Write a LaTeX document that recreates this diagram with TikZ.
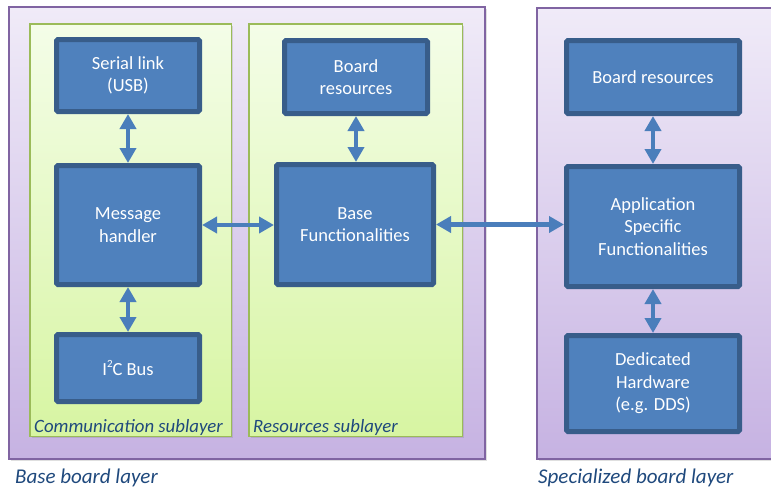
\documentclass[tikz,border=0pt]{standalone}
\usepackage{fontspec}
\setmainfont{Carlito}
\usetikzlibrary{arrows.meta,shadows}
\definecolor{boxfill}{HTML}{4F81BD}
\definecolor{boxline}{HTML}{385D8A}
\definecolor{arrowc}{HTML}{4A7EBB}
\definecolor{purpline}{HTML}{8064A2}
\definecolor{purptop}{HTML}{F0EBF8}
\definecolor{purpbot}{HTML}{C6B2E2}
\definecolor{greenline}{HTML}{9BBB59}
\definecolor{greentop}{HTML}{F4FDE8}
\definecolor{greenbot}{HTML}{D7F5A2}
\definecolor{labelc}{HTML}{1F497D}
\begin{document}
\begin{tikzpicture}[x=1pt,y=-1pt,
  block/.style={draw=boxline, line width=5pt, fill=boxfill, rounded corners=1.5pt, text=white, inner sep=0pt, align=center, font=\fontsize{18.5}{22.5}\selectfont},
  layerbox/.style={draw=purpline, line width=2pt, top color=purptop, bottom color=purpbot, inner sep=0pt, drop shadow={opacity=0.25, shadow xshift=2pt, shadow yshift=-2pt}},
  subbox/.style={draw=greenline, line width=1.5pt, top color=greentop, bottom color=greenbot, inner sep=0pt, drop shadow={opacity=0.25, shadow xshift=2pt, shadow yshift=-2pt}},
  dbl/.style={{Triangle[length=15pt,width=16pt]}-{Triangle[length=15pt,width=16pt]}, line width=4.5pt, draw=arrowc},
  lbl/.style={anchor=west, text=labelc, inner sep=0pt, font=\itshape\fontsize{18.8}{22}\selectfont}]
\clip (0,0) rectangle (771,491);
\fill[white] (0,0) rectangle (771,491);
% layers
\node[layerbox, minimum width=476pt, minimum height=452pt] (baselayer) at (247,233) {};
\node[layerbox, minimum width=262pt, minimum height=451pt] (speclayer) at (668,233.5) {};
% sublayers
\node[subbox, minimum width=201.5pt, minimum height=412.5pt] (comm) at (130.5,230) {};
\node[subbox, minimum width=213.5pt, minimum height=412.5pt] (res) at (355.5,230) {};
% blocks
\node[block, minimum width=143pt, minimum height=72pt] (ser) at (128,75.5) {Serial link\\(USB)};
\node[block, minimum width=143pt, minimum height=119pt] (msg) at (128,225) {Message\\handler};
\node[block, minimum width=143pt, minimum height=67pt] (i2c) at (128,368) {I\raisebox{1.0ex}{\fontsize{11}{11}\selectfont 2}C Bus};
\node[block, minimum width=143pt, minimum height=73pt] (brm) at (356,77) {Board\\resources};
\node[block, minimum width=157pt, minimum height=120pt] (bf) at (355,224.5) {Base\\Functionalities};
\node[block, minimum width=173pt, minimum height=73pt] (brr) at (653,77) {Board resources};
\node[block, minimum width=173pt, minimum height=120pt] (app) at (653,226.5) {Application\\Specific\\Functionalities};
\node[block, minimum width=173pt, minimum height=96pt] (hw) at (653,383.5) {Dedicated\\Hardware\\(e.g. DDS)};
% arrows
\draw[dbl] (ser.south) -- (msg.north);
\draw[dbl] (msg.south) -- (i2c.north);
\draw[dbl] (brm.south) -- (brm.south |- bf.north);
\draw[dbl] (msg.east) -- (msg.east -| bf.west);
\draw[dbl] (bf.east) -- (bf.east -| app.west);
\draw[dbl] (brr.south) -- (app.north);
\draw[dbl] (app.south) -- (hw.north);
% labels
\node[lbl] (lcomm) at (34,427) {Communication sublayer};
\node[lbl] (lres) at (253,427) {Resources sublayer};
\node[lbl, font=\itshape\fontsize{21}{24}\selectfont] (lbase) at (15,478) {Base board layer};
\node[lbl, font=\itshape\fontsize{21}{24}\selectfont] (lspec) at (538,478) {Specialized board layer};
\end{tikzpicture}
\end{document}
